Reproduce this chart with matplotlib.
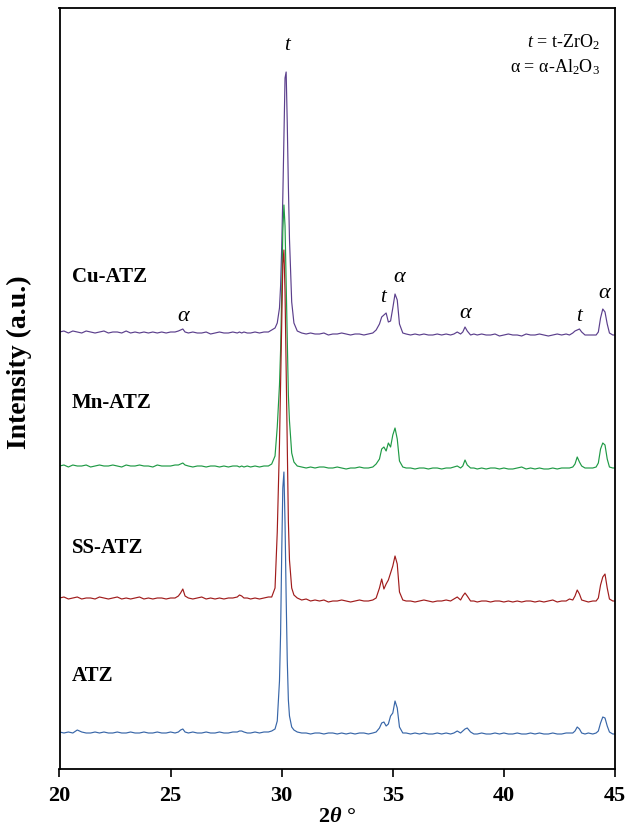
import matplotlib
matplotlib.use("Agg")
import matplotlib.pyplot as plt
import numpy as np

plt.rcParams['font.family'] = ['Liberation Serif', 'DejaVu Serif']
plt.rcParams['mathtext.fontset'] = 'custom'
plt.rcParams['mathtext.rm'] = 'Liberation Serif'
plt.rcParams['mathtext.it'] = 'Liberation Serif:italic'
plt.rcParams['mathtext.bf'] = 'Liberation Serif:bold'
plt.rcParams['mathtext.bfit'] = 'Liberation Serif:bold:italic'

# ---------------- data ----------------
two_theta = [
    20.0, 20.2, 20.4, 20.6, 20.8, 21.0, 21.2, 21.4, 21.6, 21.8, 22.0, 22.2, 22.4, 22.6,
    22.8, 23.0, 23.2, 23.4, 23.6, 23.8, 24.0, 24.2, 24.4, 24.6, 24.8, 25.0, 25.2,
    25.35, 25.45, 25.55, 25.65,
    25.8, 26.0, 26.2, 26.4, 26.6, 26.8, 27.0, 27.2, 27.4, 27.6, 27.8,
    28.0, 28.1, 28.2, 28.3, 28.45,
    28.6, 28.8, 29.0, 29.2, 29.4,
    29.55, 29.7, 29.8, 29.9, 29.95, 30.0, 30.05, 30.1, 30.15, 30.2, 30.25, 30.3, 30.35,
    30.45, 30.55, 30.7,
    30.9, 31.1, 31.3, 31.5, 31.7, 31.9, 32.1, 32.3, 32.5, 32.7, 32.9, 33.1, 33.3, 33.5,
    33.7, 33.9,
    34.1, 34.25, 34.4, 34.5, 34.6, 34.7, 34.8, 34.9, 35.0, 35.1, 35.2, 35.3, 35.45, 35.6,
    35.8, 36.0, 36.2, 36.4, 36.6, 36.8, 37.0, 37.2, 37.4, 37.6,
    37.75, 37.9, 38.05, 38.15, 38.25, 38.35, 38.5, 38.65,
    38.8, 39.0, 39.2, 39.4, 39.6, 39.8, 40.0, 40.2, 40.4, 40.6, 40.8, 41.0, 41.2, 41.4,
    41.6, 41.8, 42.0, 42.2, 42.4, 42.6, 42.8,
    42.95, 43.1, 43.2, 43.3, 43.4, 43.5, 43.65, 43.8,
    44.0, 44.15, 44.25, 44.35, 44.45, 44.55, 44.65, 44.75, 44.9, 45.0,
]

cu_atz = [
    4, 5, 3, 5, 4, 3, 5, 4, 3, 4, 5, 3, 4, 4, 3, 5, 3, 4, 3, 4, 3, 4, 3, 4, 3, 4, 4,
    5, 6, 7, 4,
    3, 4, 3, 3, 4, 2, 3, 4, 3, 3, 4,
    3, 4, 3, 4, 3,
    3, 4, 3, 4, 4,
    6, 8, 13, 28, 50, 89, 139, 200, 258, 264, 213, 150, 97, 34, 13, 5,
    3, 2, 3, 2, 2, 3, 1, 2, 2, 3, 2, 1, 2, 2, 1, 2,
    3, 6, 12, 19, 21, 23, 14, 15, 28, 42, 36, 12, 3, 2,
    1, 2, 1, 2, 1, 1, 2, 1, 2, 1,
    2, 4, 2, 4, 9, 5, 1, 2,
    1, 2, 1, 1, 2, 0, 1, 2, 1, 1, 0, 2, 1, 1, 2, 1, 0, 1, 2, 1, 2,
    1, 3, 5, 6, 7, 4, 1, 1,
    1, 1, 4, 18, 27, 24, 12, 3, 1, 1,
]

mn_atz = [
    3, 4, 2, 4, 3, 3, 4, 2, 3, 4, 3, 3, 4, 3, 2, 4, 3, 3, 4, 3, 3, 2, 4, 3, 3, 3, 4,
    4, 5, 6, 4,
    3, 2, 3, 3, 2, 3, 3, 2, 3, 2, 3,
    3, 2, 3, 2, 3,
    2, 3, 2, 3, 3,
    5, 13, 42, 84, 119, 174, 238, 264, 243, 185, 127, 74, 48, 16, 7, 3,
    2, 1, 2, 1, 2, 2, 1, 1, 2, 1, 0, 1, 1, 2, 1, 1,
    2, 5, 10, 20, 22, 18, 26, 22, 34, 41, 30, 8, 2, 1,
    1, 0, 1, 1, 0, 1, 1, 0, 1, 1,
    2, 3, 1, 3, 9, 4, 1, 1,
    0, 1, 0, 1, 1, 0, 1, 0, 0, 1, 2, 0, 1, 0, 1, 0, 0, 1, 0, 1, 1,
    1, 2, 5, 12, 7, 3, 1, 1,
    1, 2, 6, 20, 26, 24, 10, 2, 1, 1,
]

ss_atz = [
    4, 5, 3, 4, 5, 3, 4, 4, 3, 5, 4, 3, 4, 5, 3, 4, 3, 4, 5, 3, 4, 3, 4, 4, 3, 4, 4,
    6, 9, 13, 6,
    4, 3, 4, 5, 3, 4, 3, 4, 3, 4, 4,
    5, 7, 6, 4, 4,
    3, 4, 3, 4, 5,
    5, 14, 70, 158, 218, 282, 338, 352, 310, 232, 148, 81, 42, 14, 7, 4,
    2, 3, 1, 2, 1, 2, 0, 1, 1, 2, 1, 0, 1, 2, 1, 1,
    2, 4, 14, 23, 13, 18, 22, 29, 36, 46, 38, 10, 2, 1,
    1, 0, 1, 2, 1, 0, 1, 1, 2, 1,
    3, 5, 2, 6, 9, 6, 1, 1,
    0, 1, 1, 0, 1, 1, 0, 1, 0, 1, 0, 1, 1, 0, 1, 0, 1, 2, 0, 1, 1,
    3, 2, 6, 12, 8, 2, 1, 0,
    1, 1, 4, 17, 25, 28, 14, 3, 1, 1,
]

atz = [
    2, 1, 2, 1, 4, 2, 1, 1, 2, 1, 2, 1, 1, 2, 1, 1, 2, 1, 1, 2, 1, 1, 2, 1, 1, 2, 1,
    2, 4, 5, 2,
    1, 2, 1, 1, 2, 1, 1, 2, 1, 1, 2,
    2, 3, 3, 2, 1,
    1, 2, 1, 2, 2,
    3, 5, 13, 53, 100, 180, 246, 262, 211, 137, 74, 34, 18, 7, 4, 2,
    1, 1, 0, 1, 1, 0, 1, 1, 0, 1, 0, 1, 0, 1, 1, 0,
    1, 2, 6, 11, 12, 8, 10, 18, 21, 33, 26, 7, 1, 1,
    0, 1, 0, 1, 0, 0, 1, 0, 1, 0,
    1, 3, 1, 3, 5, 6, 2, 0,
    0, 1, 0, 0, 1, 0, 1, 0, 0, 1, 0, 0, 1, 0, 1, 0, 0, 1, 0, 0, 1,
    1, 1, 3, 7, 5, 1, 0, 1,
    0, 1, 3, 11, 17, 16, 8, 2, 0, 0,
]

sample_names = ["Cu-ATZ", "Mn-ATZ", "SS-ATZ", "ATZ"]
offsets = [433, 300, 167, 35]
colors = ["#5b3f8c", "#1f9a45", "#a01c1c", "#3866a8"]
label_y = [492, 366, 221, 93]

# peak markers (phase, 2theta, y position)
peak_labels = ["t", "α", "t", "α", "α", "t", "α"]
peak_x = [30.23, 25.56, 34.56, 35.27, 38.25, 43.39, 44.52]
peak_y = [724, 452, 472, 492, 456, 452, 476]

x_ticks = [20, 25, 30, 35, 40, 45]

# ---------------- figure ----------------
fig = plt.figure(figsize=(6.29, 8.26), dpi=100)
ax = fig.add_axes([59.5 / 629, 1 - 769 / 826, 555.5 / 629, 761 / 826])

series = [cu_atz, mn_atz, ss_atz, atz]
x = np.array(two_theta)
for vals, off, c in zip(series, offsets, colors):
    ax.plot(x, np.array(vals) + off, color=c, lw=0.85)

for name, yy in zip(sample_names, label_y):
    ax.text(20.56, yy, name, fontsize=15, fontweight='bold', ha='left', va='center')

for lab, px, py in zip(peak_labels, peak_x, peak_y):
    fs = 16 if lab == "α" else 15
    ax.text(px, py, lab, fontsize=fs, fontstyle='italic', ha='center', va='center')

ax.text(0.973, 727, "$t$ = t-ZrO$_2$", fontsize=13, ha='right', va='center',
        transform=ax.get_yaxis_transform())
ax.text(0.973, 702, "α = α-Al$_2$O$_3$", fontsize=13, ha='right', va='center',
        transform=ax.get_yaxis_transform())

ax.set_xlim(20, 45)
ax.set_ylim(0, 761)
ax.set_xticks(x_ticks)
ax.set_xticklabels([str(t) for t in x_ticks], fontsize=16, fontweight='bold')
ax.set_yticks([])
ax.tick_params(axis='x', direction='out', length=6, width=1.2, pad=6)
for s in ax.spines.values():
    s.set_linewidth(1.3)

ax.set_xlabel(r"2$\mathbfit{\theta}$ °", fontsize=16, fontweight='bold', labelpad=1)
ax.set_ylabel("Intensity (a.u.)", fontsize=20, fontweight='bold')
ax.yaxis.set_label_coords(-0.05, 0.535)

fig.savefig("out.png", dpi=100)
